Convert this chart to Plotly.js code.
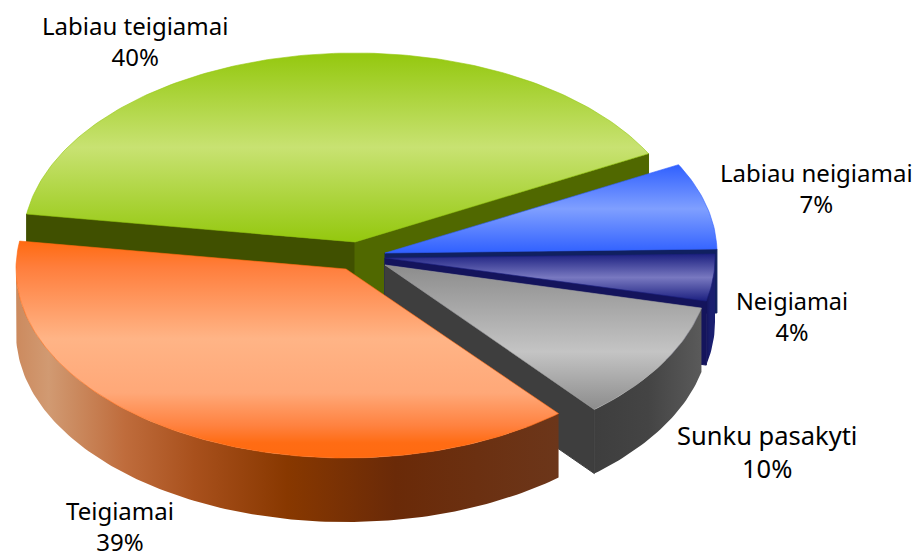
<!DOCTYPE html>
<html>
<head>
<meta charset="utf-8">
<script src="https://cdn.plot.ly/plotly-3.0.1.min.js"></script>
<style>html,body{margin:0;padding:0;background:#fff}#chart{width:916px;height:557px}</style>
</head>
<body>
<div id="chart"></div>
<script>
// Data (shares in percent; the printed labels are rounded)
const categories = ['Labiau teigiamai', 'Labiau neigiamai', 'Neigiamai', 'Sunku pasakyti', 'Teigiamai'];
const values = [39.9, 7.4, 4.0, 10.2, 38.5];
const startAngle = 171.5;

// Projection of the exploded pie
const radiiX = [332, 332, 330, 325, 330];
const radiusY = 189, depth = 64;
const centersX = [355, 385, 385, 385, 346];
const centersY = [242, 253, 258, 265, 269];

// Styles
const faceStops = [
  [[0,'#94c80e'],[0.5,'#c8e272'],[1,'#94c80e']],
  [[0,'#3060ff'],[0.5,'#7f9fff'],[1,'#3060ff']],
  [[0,'#1c2080'],[0.5,'#7878c0'],[1,'#1c2080']],
  [[0,'#8c8c8c'],[0.6,'#c4c4c4'],[1,'#8c8c8c']],
  [[0,'#ff6a10'],[0.12,'#ff7e3c'],[0.45,'#ffb486'],[0.7,'#ffa878'],[0.85,'#ff8240'],[0.93,'#ff6c14'],[1,'#ff6a10']]
];
const cutColors = ['#405000', '#102060', '#14145c', '#3e3e3e', '#6a3010'];
const cutColors2 = ['#506800', '#3060ff', '#14145c', '#3e3e3e', '#6a3010'];
const wallStops = [
  [[0,'#506800'],[1,'#506800']],
  [[0,'#1c2080'],[1,'#1c2080']],
  [[0,'#14145c'],[0.5,'#1a1f70'],[1,'#1a1f70']],
  [[0,'#3e3e3e'],[0.5,'#444444'],[1,'#5a5a5a']],
  [[0,'#cc8a5e'],[0.06,'#d19a72'],[0.2,'#bf6c3c'],[0.33,'#a8501c'],[0.5,'#883800'],[0.7,'#6a2a08'],[1,'#6c361a']]
];
const edgeColors = ['#94c80e', '#3060ff', '#1c2080', '#a0a0a0', '#ff6a10'];

const rad = d => d * Math.PI / 180;
const arc = (i, a1, a2, dz) => {
  const n = Math.max(2, Math.ceil(Math.abs(a2 - a1)));
  const xs = [], ys = [];
  for (let k = 0; k <= n; k++) {
    const t = rad(a1 + (a2 - a1) * k / n);
    xs.push(centersX[i] + radiiX[i] * Math.cos(t));
    ys.push(centersY[i] - radiusY * Math.sin(t) + dz);
  }
  return [xs, ys];
};

// Slice angles from the values
const total = values.reduce((a, b) => a + b, 0);
const spans = [];
let cursor = startAngle;
values.forEach(v => { const next = cursor - v / total * 360; spans.push([cursor, next]); cursor = next; });

const traces = [];
const poly = (x, y, extra) => traces.push(Object.assign({
  type: 'scatter', mode: 'lines', x, y, fill: 'toself', hoverinfo: 'skip', showlegend: false,
  line: {width: 0, color: 'rgba(0,0,0,0)'}
}, extra));

const cutWall = (i, angle, color) => {
  const t = rad(angle);
  const ex = centersX[i] + radiiX[i] * Math.cos(t), ey = centersY[i] - radiusY * Math.sin(t);
  poly([centersX[i], ex, ex, centersX[i], centersX[i]],
       [centersY[i], ey, ey + depth, centersY[i] + depth, centersY[i]],
       {fillcolor: color, line: {width: 1, color: color}});
};
const outerWall = i => {
  // only the part of the rim that faces the viewer (angles from 0 down to -180)
  const a1 = Math.min(spans[i][0] > 180 ? 0 : spans[i][0], 0);
  const a2 = Math.max(spans[i][1], -180);
  if (a1 <= a2) return;
  const [tx, ty] = arc(i, a1, a2, 0);
  const [bx, by] = arc(i, a2, a1, depth);
  const xs = tx.concat(bx), ys = ty.concat(by);
  poly(xs.concat(xs[0]), ys.concat(ys[0]), {
    fillgradient: {type: 'horizontal', colorscale: wallStops[i], start: Math.min(...xs), stop: Math.max(...xs)},
    fillcolor: 'rgba(0,0,0,0)'
  });
};
const face = i => {
  const [ax, ay] = arc(i, spans[i][0], spans[i][1], 0);
  const xs = [centersX[i]].concat(ax, centersX[i]);
  const ys = [centersY[i]].concat(ay, centersY[i]);
  // gradient runs from the top to the bottom of the face
  poly(xs, ys, {
    fillgradient: {type: 'vertical', colorscale: faceStops[i], start: Math.min(...ys), stop: Math.max(...ys)},
    fillcolor: 'rgba(0,0,0,0)',
    line: {width: 0.6, color: edgeColors[i]}
  });
};

// Back to front
cutWall(0, spans[0][0], cutColors[0]);
cutWall(0, spans[0][1], cutColors2[0]);
cutWall(1, spans[1][1], cutColors[1]);
outerWall(1);
face(1);
outerWall(2);
cutWall(2, spans[2][1], cutColors[2]);
face(2);
outerWall(3);
cutWall(3, spans[3][1], cutColors[3]);
face(3);
face(0);
outerWall(4);
face(4);

const labelX = [135, 816, 792, 767, 120];
const labelY = [41, 188, 316.5, 451, 525.5];
const labelSizes = [24, 24, 23.5, 25.5, 24];
const annotations = categories.map((c, i) => ({
  x: labelX[i], y: labelY[i], xref: 'x', yref: 'y', showarrow: false,
  text: c + '<br>' + Math.round(values[i] / total * 100) + '%',
  xanchor: 'center', yanchor: 'middle', align: 'center',
  font: {family: 'Noto Sans, sans-serif', size: labelSizes[i], color: '#000'}
}));

Plotly.newPlot('chart', traces, {
  width: 916, height: 557,
  margin: {l: 0, r: 0, t: 0, b: 0},
  paper_bgcolor: '#fff', plot_bgcolor: '#fff',
  showlegend: false,
  xaxis: {range: [0, 916], visible: false, fixedrange: true},
  yaxis: {range: [557, 0], visible: false, fixedrange: true},
  annotations
}, {displayModeBar: false, staticPlot: true});
</script>
</body>
</html>
